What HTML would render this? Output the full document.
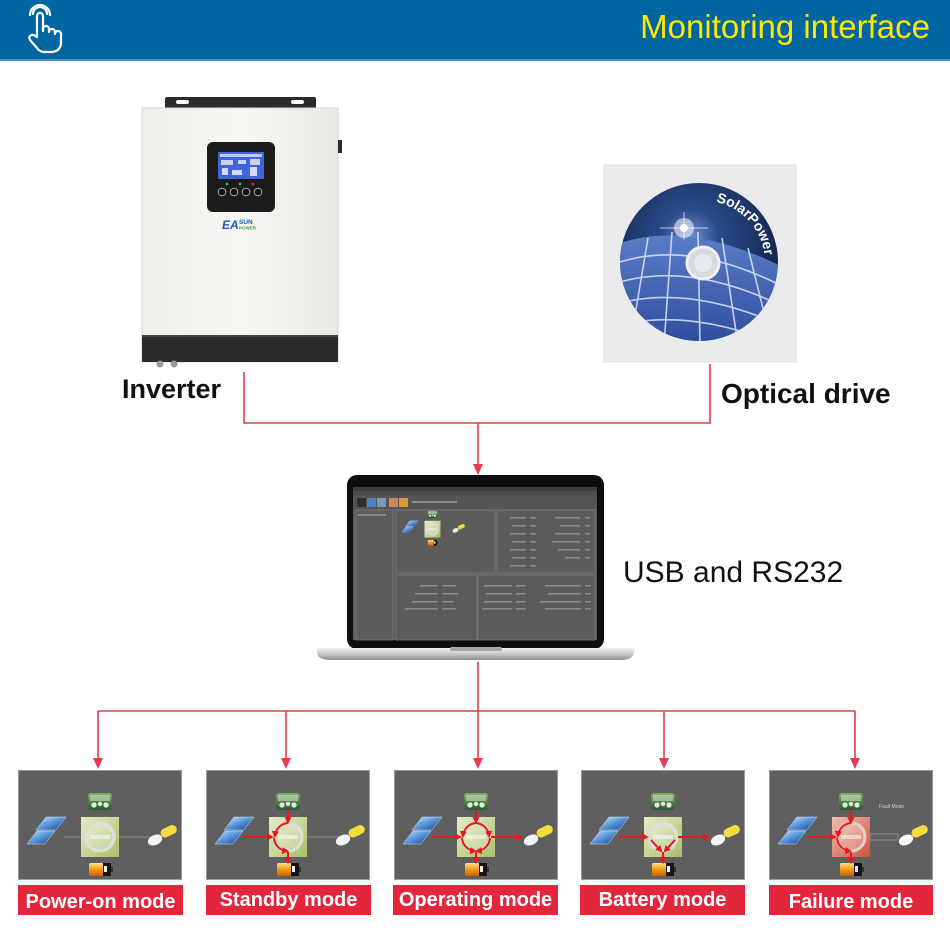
<!DOCTYPE html>
<html><head><meta charset="utf-8">
<style>
html,body{margin:0;padding:0;background:#fff;}
body{width:950px;height:936px;overflow:hidden;}
svg{display:block;}
text{font-family:"Liberation Sans",Arial,sans-serif;}
</style></head>
<body>
<svg width="950" height="936" viewBox="0 0 950 936" xmlns="http://www.w3.org/2000/svg">
<defs>
  <linearGradient id="sg" x1="0" y1="0" x2="1" y2="1">
    <stop offset="0" stop-color="#cfe6ff"/><stop offset="0.45" stop-color="#5d9be0"/><stop offset="1" stop-color="#163f8e"/>
  </linearGradient>
  <linearGradient id="gg" x1="0" y1="0" x2="1" y2="1">
    <stop offset="0" stop-color="#e6ecc6"/><stop offset="1" stop-color="#a9bf6c"/>
  </linearGradient>
  <linearGradient id="rg" x1="0" y1="0" x2="1" y2="1">
    <stop offset="0" stop-color="#f3c0b2"/><stop offset="1" stop-color="#c9503e"/>
  </linearGradient>
  <linearGradient id="tg" x1="0" y1="0" x2="0" y2="1">
    <stop offset="0" stop-color="#7fae6c"/><stop offset="1" stop-color="#2c5a2a"/>
  </linearGradient>
  <linearGradient id="bg" x1="0" y1="0" x2="0" y2="1">
    <stop offset="0" stop-color="#ffe08a"/><stop offset="0.5" stop-color="#f39a12"/><stop offset="1" stop-color="#c86200"/>
  </linearGradient>
  <linearGradient id="silver" x1="0" y1="0" x2="0" y2="1">
    <stop offset="0" stop-color="#f2f2f2"/><stop offset="0.5" stop-color="#c9c9cb"/><stop offset="1" stop-color="#8e8e90"/>
  </linearGradient>
  <linearGradient id="body" x1="0" y1="0" x2="1" y2="0">
    <stop offset="0" stop-color="#eeede8"/><stop offset="0.5" stop-color="#f8f7f3"/><stop offset="1" stop-color="#e9e8e3"/>
  </linearGradient>
  <radialGradient id="sky" cx="0.45" cy="0.35" r="0.7">
    <stop offset="0" stop-color="#6b8fd0"/><stop offset="0.25" stop-color="#2a4b8a"/><stop offset="1" stop-color="#0c1834"/>
  </radialGradient>
  <linearGradient id="panelblue" x1="0" y1="0" x2="0" y2="1">
    <stop offset="0" stop-color="#5a7cc8"/><stop offset="1" stop-color="#2f4c9c"/>
  </linearGradient>
  <clipPath id="disc"><circle cx="699" cy="262" r="79"/></clipPath>
  <marker id="ra" viewBox="0 0 10 10" refX="7" refY="5" markerWidth="7" markerHeight="7" markerUnits="userSpaceOnUse" orient="auto">
    <path d="M0,0 L10,5 L0,10 Z" fill="#e8161e"/>
  </marker>

  <g id="solar">
    <polygon points="28,47 48,47 38,60 18,60" fill="url(#sg)" stroke="#cfe0f5" stroke-width="0.5"/>
    <polygon points="19,61 37,61 27,74 9,74" fill="url(#sg)" stroke="#cfe0f5" stroke-width="0.5"/>
  </g>
  <g id="topic">
    <rect x="70" y="23" width="24" height="17" rx="3" fill="url(#tg)"/>
    <rect x="72" y="25" width="20" height="6" fill="#d6e6cc" opacity="0.55"/>
    <circle cx="76" cy="35" r="2.6" fill="#e4e4e4"/>
    <circle cx="82" cy="34" r="2.2" fill="#e4e4e4"/>
    <circle cx="88" cy="35" r="2.6" fill="#e4e4e4"/>
  </g>
  <g id="batt">
    <rect x="71" y="93" width="15" height="13" rx="1.5" fill="url(#bg)"/>
    <rect x="85" y="93" width="8" height="13" fill="#151515"/>
    <rect x="86" y="96" width="3" height="6" fill="#eee"/>
    <rect x="93" y="97" width="2" height="5" fill="#333"/>
  </g>
  <g id="bulb">
    <ellipse cx="137" cy="70" rx="7.5" ry="5" fill="#f4f4f4" transform="rotate(-25 137 70)"/>
    <rect x="142" y="57" width="17" height="9" rx="4.5" fill="#f3dd3e" transform="rotate(-25 150 61)"/>
  </g>
  <g id="circ">
    <circle cx="82" cy="67" r="14" fill="#ffffff" fill-opacity="0.22" stroke="#dedede" stroke-width="3"/>
    <rect x="72" y="65" width="20" height="4" fill="#f2f2f2" opacity="0.7"/>
  </g>
</defs>

<!-- Header -->
<rect x="0" y="0" width="950" height="60" fill="#0066a2"/>
<rect x="0" y="59" width="950" height="2" fill="#4e94c4"/>
<g fill="none" stroke="#fff" stroke-width="2.2" stroke-linejoin="round" stroke-linecap="round">
  <path d="M33,14 a7,7 0 0 1 14,0"/>
  <path d="M30,15 a10,10 0 0 1 20,0"/>
  <path d="M37,37 V16 a3,3 0 0 1 6,0 V31 V29 a3,3 0 0 1 6,0 V32 a3,3 0 0 1 6,0 V34 a3,3 0 0 1 6,0 V42 q0,9 -9,10 H44 q-4,0 -7,-4 L30,40 a3,3 0 0 1 5,-4 Z"/>
</g>
<text x="930" y="38" font-size="33" fill="#ffe800" text-anchor="end">Monitoring interface</text>

<!-- Inverter -->
<path d="M165,108 V99 a2,2 0 0 1 2,-2 H314 a2,2 0 0 1 2,2 V108 Z" fill="#2b2b2b"/>
<rect x="176" y="100" width="13" height="4" rx="2" fill="#fff"/>
<rect x="291" y="100" width="13" height="4" rx="2" fill="#fff"/>
<rect x="142" y="108" width="196" height="254" fill="url(#body)" stroke="#d8d7d2" stroke-width="1"/>
<rect x="338" y="140" width="4" height="13" fill="#2b2b2b"/>
<rect x="142" y="335" width="196" height="27" fill="#2a2a2a"/>
<rect x="142" y="335" width="196" height="2" fill="#444"/>
<circle cx="160" cy="364" r="3.5" fill="#9a9a9a"/>
<circle cx="174" cy="364" r="3.5" fill="#9a9a9a"/>
<rect x="207" y="142" width="68" height="70" rx="6" fill="#1c1c1c"/>
<rect x="218" y="152" width="46" height="27" fill="#3f64dc"/>
<rect x="220" y="154" width="42" height="3" fill="#dfe6ff" opacity="0.8"/>
<rect x="221" y="160" width="12" height="5" fill="#eef" opacity="0.8"/>
<rect x="238" y="160" width="8" height="4" fill="#eef" opacity="0.8"/>
<rect x="250" y="159" width="10" height="6" fill="#eef" opacity="0.8"/>
<rect x="222" y="168" width="6" height="7" fill="#eef" opacity="0.85"/>
<rect x="232" y="170" width="10" height="5" fill="#eef" opacity="0.85"/>
<rect x="250" y="167" width="7" height="9" fill="#eef" opacity="0.85"/>
<circle cx="227" cy="184" r="1.3" fill="#3c3"/>
<circle cx="240" cy="184" r="1.3" fill="#3c3"/>
<circle cx="253" cy="184" r="1.3" fill="#e33"/>
<g fill="#111" stroke="#aaa" stroke-width="1">
  <circle cx="222" cy="192" r="3.8"/><circle cx="234" cy="192" r="3.8"/>
  <circle cx="246" cy="192" r="3.8"/><circle cx="258" cy="192" r="3.8"/>
</g>
<text x="222" y="229" font-size="12" font-weight="bold" font-style="italic" fill="#1d5bb8">EA</text>
<text x="239" y="224" font-size="6.5" font-weight="bold" fill="#1d5bb8">SUN</text>
<text x="239" y="229.5" font-size="4.5" font-weight="bold" fill="#3aa03a">POWER</text>

<!-- CD -->
<rect x="604" y="165" width="192" height="197" fill="#ebebee" stroke="#e0e0e3" stroke-width="1"/>
<g clip-path="url(#disc)">
  <rect x="618" y="180" width="162" height="165" fill="url(#sky)"/>
  <path d="M615,245 Q685,218 785,268 L785,345 L615,345 Z" fill="url(#panelblue)"/>
  <g stroke="#dfe6f8" stroke-width="1.6" fill="none" opacity="0.85">
    <path d="M620,262 Q690,240 780,285"/>
    <path d="M620,282 Q690,262 780,305"/>
    <path d="M620,303 Q690,285 780,325"/>
    <path d="M620,325 Q690,308 780,345"/>
    <path d="M648,238 L630,345"/>
    <path d="M672,232 L664,345"/>
    <path d="M698,232 L700,345"/>
    <path d="M722,238 L738,345"/>
    <path d="M748,248 L772,345"/>
  </g>
  <circle cx="684" cy="228" r="10" fill="#fff" opacity="0.55"/>
  <circle cx="684" cy="228" r="4" fill="#fff"/>
  <path d="M660,228 L708,228 M684,212 L684,240" stroke="#fff" stroke-width="1" opacity="0.7"/>
</g>
<circle cx="703" cy="263" r="16" fill="#d9dbe2" stroke="#f0f0f4" stroke-width="3"/>
<circle cx="703" cy="263" r="9" fill="#e8e9ee"/>
<path id="arcp" d="M716,202 A62,62 0 0 1 765,263" fill="none"/>
<text font-size="14" font-weight="bold" fill="#fff" font-family="Liberation Serif, serif"><textPath href="#arcp">SolarPower</textPath></text>

<!-- Labels -->
<text x="122" y="398" font-size="27" font-weight="bold" fill="#111">Inverter</text>
<text x="721" y="403" font-size="28" font-weight="bold" fill="#111">Optical drive</text>
<text x="623" y="582" font-size="30" fill="#111">USB and RS232</text>

<!-- Connectors top -->
<g stroke="#e83a4e" stroke-width="1.6" fill="none">
  <path d="M244,372 V423 H710 V364"/>
  <path d="M478,423 V466"/>
  <path d="M478,662 V760"/>
  <path d="M98,711 H855"/>
  <path d="M98,711 V760 M286,711 V760 M664,711 V760 M855,711 V760"/>
</g>
<g fill="#e83a4e">
  <path d="M473,464 L483,464 L478,475 Z"/>
  <path d="M93,758 L103,758 L98,769 Z"/>
  <path d="M281,758 L291,758 L286,769 Z"/>
  <path d="M473,758 L483,758 L478,769 Z"/>
  <path d="M659,758 L669,758 L664,769 Z"/>
  <path d="M850,758 L860,758 L855,769 Z"/>
</g>

<!-- Laptop -->
<rect x="347" y="475" width="257" height="174" rx="10" fill="#0e0e0e"/>
<rect x="353" y="487" width="244" height="153" fill="#5c5c5c"/>
<rect x="353" y="487" width="244" height="4" fill="#3e3e3e"/>
<rect x="353" y="491" width="244" height="5" fill="#4d4d4d"/>
<rect x="353" y="496" width="244" height="13" fill="#555"/>
<g>
  <rect x="357" y="498" width="9" height="9" fill="#2d2d2d"/>
  <rect x="367" y="498" width="9" height="9" fill="#4d7fc4"/>
  <rect x="377" y="498" width="9" height="9" fill="#7a96b8"/>
  <rect x="389" y="498" width="9" height="9" fill="#c78a52"/>
  <rect x="399" y="498" width="9" height="9" fill="#d99a3a"/>
  <rect x="412" y="501" width="45" height="2" fill="#8a8a8a"/>
</g>
<g fill="none" stroke="#7a7a7a" stroke-width="0.8">
  <rect x="356" y="510" width="37" height="130"/>
  <rect x="396" y="510" width="99" height="63"/>
  <rect x="497" y="510" width="98" height="63"/>
  <rect x="396" y="575" width="81" height="65"/>
  <rect x="478" y="575" width="117" height="65"/>
</g>
<rect x="358" y="514" width="28" height="2" fill="#888"/>
<g transform="translate(398,501) scale(0.42)">
  <use href="#solar"/><use href="#topic"/><use href="#batt"/><use href="#bulb"/>
  <rect x="63" y="47" width="38" height="40" fill="url(#gg)"/>
  <use href="#circ"/>
</g>
<g fill="#8c8c8c">
  <rect x="510" y="517" width="16" height="1.5"/><rect x="530" y="517" width="6" height="1.5"/><rect x="555" y="517" width="25" height="1.5"/><rect x="585" y="517" width="5" height="1.5"/>
  <rect x="512" y="525" width="14" height="1.5"/><rect x="530" y="525" width="6" height="1.5"/><rect x="560" y="525" width="20" height="1.5"/><rect x="585" y="525" width="5" height="1.5"/>
  <rect x="510" y="533" width="16" height="1.5"/><rect x="530" y="533" width="6" height="1.5"/><rect x="555" y="533" width="25" height="1.5"/><rect x="585" y="533" width="5" height="1.5"/>
  <rect x="512" y="541" width="14" height="1.5"/><rect x="530" y="541" width="6" height="1.5"/><rect x="552" y="541" width="28" height="1.5"/><rect x="585" y="541" width="5" height="1.5"/>
  <rect x="510" y="549" width="16" height="1.5"/><rect x="530" y="549" width="6" height="1.5"/><rect x="558" y="549" width="22" height="1.5"/><rect x="585" y="549" width="5" height="1.5"/>
  <rect x="512" y="557" width="14" height="1.5"/><rect x="530" y="557" width="6" height="1.5"/><rect x="565" y="557" width="15" height="1.5"/><rect x="585" y="557" width="5" height="1.5"/>
  <rect x="510" y="565" width="16" height="1.5"/><rect x="530" y="565" width="6" height="1.5"/>
  <rect x="420" y="585" width="18" height="1.5"/><rect x="442" y="585" width="14" height="1.5"/>
  <rect x="415" y="593" width="23" height="1.5"/><rect x="442" y="593" width="16" height="1.5"/>
  <rect x="412" y="601" width="26" height="1.5"/><rect x="442" y="601" width="12" height="1.5"/>
  <rect x="405" y="608" width="33" height="1.5"/><rect x="442" y="608" width="14" height="1.5"/>
  <rect x="484" y="585" width="28" height="1.5"/><rect x="516" y="585" width="10" height="1.5"/><rect x="545" y="585" width="36" height="1.5"/><rect x="585" y="585" width="6" height="1.5"/>
  <rect x="486" y="593" width="26" height="1.5"/><rect x="516" y="593" width="10" height="1.5"/><rect x="548" y="593" width="33" height="1.5"/><rect x="585" y="593" width="6" height="1.5"/>
  <rect x="484" y="601" width="28" height="1.5"/><rect x="516" y="601" width="10" height="1.5"/><rect x="540" y="601" width="41" height="1.5"/><rect x="585" y="601" width="6" height="1.5"/>
  <rect x="482" y="608" width="30" height="1.5"/><rect x="516" y="608" width="10" height="1.5"/><rect x="545" y="608" width="36" height="1.5"/><rect x="585" y="608" width="6" height="1.5"/>
</g>
<path d="M317,648 H634 V652 Q634,660 620,660 H331 Q317,660 317,652 Z" fill="url(#silver)"/>
<rect x="450" y="647" width="52" height="4" rx="2" fill="#a9a9ab"/>

<!-- Mode panels -->
<!-- Panel 1: Power-on -->
<g transform="translate(18,770)">
  <rect x="0.5" y="0.5" width="163" height="109" fill="#5f5f5f" stroke="#9a9a9a"/>
  <line x1="46" y1="67" x2="132" y2="67" stroke="#8d8d8d" stroke-width="1"/>
  <use href="#solar"/><use href="#topic"/>
  <rect x="63" y="47" width="38" height="40" fill="url(#gg)"/>
  <use href="#circ"/><use href="#batt"/><use href="#bulb"/>
</g>
<!-- Panel 2: Standby -->
<g transform="translate(206,770)">
  <rect x="0.5" y="0.5" width="163" height="109" fill="#5f5f5f" stroke="#9a9a9a"/>
  <line x1="96" y1="67" x2="132" y2="67" stroke="#8d8d8d" stroke-width="1"/>
  <use href="#solar"/><use href="#topic"/>
  <rect x="63" y="47" width="38" height="40" fill="url(#gg)"/>
  <use href="#circ"/><use href="#batt"/><use href="#bulb"/>
  <g stroke="#e8161e" stroke-width="2" fill="none" marker-end="url(#ra)">
    <line x1="38" y1="67" x2="66" y2="67"/>
    <line x1="82" y1="40" x2="82" y2="52"/>
    <path d="M82,53 A14,14 0 0 0 69,66"/>
    <path d="M68,68 A14,14 0 0 0 81,81"/>
    <line x1="82" y1="82" x2="82" y2="92"/>
  </g>
</g>
<!-- Panel 3: Operating -->
<g transform="translate(394,770)">
  <rect x="0.5" y="0.5" width="163" height="109" fill="#5f5f5f" stroke="#9a9a9a"/>
  <use href="#solar"/><use href="#topic"/>
  <rect x="63" y="47" width="38" height="40" fill="url(#gg)"/>
  <use href="#circ"/><use href="#batt"/><use href="#bulb"/>
  <g stroke="#e8161e" stroke-width="2" fill="none" marker-end="url(#ra)">
    <line x1="38" y1="67" x2="66" y2="67"/>
    <line x1="82" y1="40" x2="82" y2="52"/>
    <path d="M82,53 A14,14 0 0 0 69,66"/>
    <path d="M82,53 A14,14 0 0 1 95,66"/>
    <path d="M68,68 A14,14 0 0 0 81,81"/>
    <path d="M96,68 A14,14 0 0 1 83,81"/>
    <line x1="97" y1="67" x2="127" y2="67"/>
    <line x1="82" y1="82" x2="82" y2="92"/>
  </g>
</g>
<!-- Panel 4: Battery -->
<g transform="translate(581,770)">
  <rect x="0.5" y="0.5" width="163" height="109" fill="#5f5f5f" stroke="#9a9a9a"/>
  <use href="#solar"/><use href="#topic"/>
  <rect x="63" y="47" width="38" height="40" fill="url(#gg)"/>
  <use href="#circ"/><use href="#batt"/><use href="#bulb"/>
  <g stroke="#e8161e" stroke-width="2" fill="none" marker-end="url(#ra)">
    <line x1="38" y1="67" x2="66" y2="67"/>
    <path d="M70,70 L80,81"/>
    <path d="M94,70 L84,81"/>
    <line x1="97" y1="67" x2="127" y2="67"/>
    <line x1="82" y1="82" x2="82" y2="92"/>
  </g>
</g>
<!-- Panel 5: Failure -->
<g transform="translate(769,770)">
  <rect x="0.5" y="0.5" width="163" height="109" fill="#5f5f5f" stroke="#9a9a9a"/>
  <rect x="101" y="64" width="28" height="6" fill="none" stroke="#8d8d8d" stroke-width="1"/>
  <use href="#solar"/><use href="#topic"/>
  <rect x="63" y="47" width="38" height="40" fill="url(#rg)"/>
  <circle cx="82" cy="67" r="14" fill="#ffffff" fill-opacity="0.25" stroke="#e6cfc8" stroke-width="3"/>
  <rect x="72" y="65" width="20" height="4" fill="#f2f2f2" opacity="0.6"/>
  <use href="#batt"/><use href="#bulb"/>
  <text x="110" y="38" font-size="5" fill="#cfcfcf">Fault Mode</text>
  <g stroke="#e8161e" stroke-width="2" fill="none" marker-end="url(#ra)">
    <line x1="38" y1="67" x2="66" y2="67"/>
    <line x1="82" y1="40" x2="82" y2="52"/>
    <path d="M82,53 A14,14 0 0 0 69,66"/>
    <path d="M68,68 A14,14 0 0 0 81,81"/>
    <line x1="82" y1="82" x2="82" y2="92"/>
  </g>
</g>

<!-- Mode labels -->
<g fill="#e3263b">
  <rect x="18" y="885" width="165" height="30"/>
  <rect x="206" y="885" width="165" height="30"/>
  <rect x="393" y="885" width="165" height="30"/>
  <rect x="580" y="885" width="165" height="30"/>
  <rect x="769" y="885" width="164" height="30"/>
</g>
<g fill="#fff" font-size="20" font-weight="bold" text-anchor="middle">
  <text x="100.5" y="908">Power-on mode</text>
  <text x="288.5" y="906">Standby mode</text>
  <text x="475.5" y="906">Operating mode</text>
  <text x="662.5" y="906">Battery mode</text>
  <text x="851" y="908">Failure mode</text>
</g>
</svg>
</body></html>
